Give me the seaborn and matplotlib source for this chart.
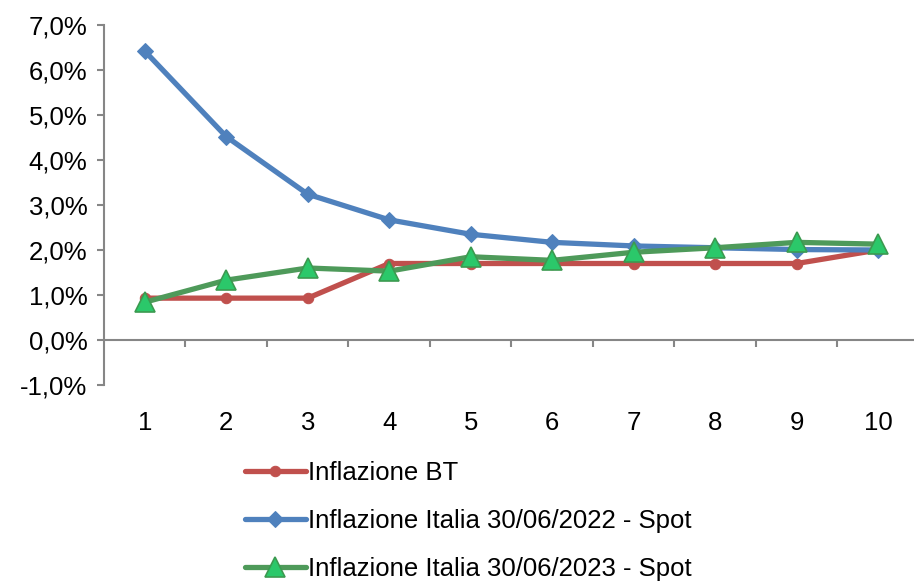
import numpy as np
import pandas as pd
import matplotlib
matplotlib.use("Agg")
import matplotlib.pyplot as plt
from matplotlib.ticker import FuncFormatter
import seaborn as sns

# data (percent values)
anni = [1, 2, 3, 4, 5, 6, 7, 8, 9, 10]
infl_bt = [0.93, 0.93, 0.93, 1.70, 1.70, 1.70, 1.70, 1.70, 1.70, 2.00]
infl_2022 = [6.42, 4.52, 3.24, 2.67, 2.35, 2.17, 2.09, 2.05, 2.01, 2.00]
infl_2023 = [0.84, 1.33, 1.60, 1.53, 1.85, 1.77, 1.95, 2.05, 2.17, 2.13]
nomi = ["Inflazione BT",
        "Inflazione Italia 30/06/2022 - Spot",
        "Inflazione Italia 30/06/2023 - Spot"]
y_ticks = [-1, 0, 1, 2, 3, 4, 5, 6, 7]

sns.set_style("white")
plt.rcParams['font.family'] = ['Liberation Sans', 'DejaVu Sans']
plt.rcParams['font.style'] = 'normal'
plt.rcParams['text.color'] = 'black'
FS = 18.5

fig = plt.figure(figsize=(9.14, 5.82), dpi=100)
ax = fig.add_axes([104 / 914, 1 - 385 / 582, 1 - 104 / 914, 360 / 582])

# one style per series
stili = [
    dict(color="#C0504D", marker="o", markersize=7.5, markerfacecolor="#C0504D",
         markeredgecolor="#C0504D"),
    dict(color="#4F81BD", marker="D", markersize=8, markerfacecolor="#4F81BD",
         markeredgecolor="#4F81BD"),
    dict(color="#4E9A5A", marker="^", markersize=14, markerfacecolor="#2BC86A",
         markeredgecolor="#3C9A50", markeredgewidth=1.2),
]
serie = [infl_bt, infl_2022, infl_2023]

for nome, valori, st in zip(nomi, serie, stili):
    df = pd.DataFrame({"anno": anni, "valore": valori})
    sns.lineplot(data=df, x="anno", y="valore", ax=ax, label=nome,
                 linewidth=3.8, solid_joinstyle="round", **st)

ax.set_xlim(0.5, 10.44)
ax.set_ylim(-1, 7)
ax.set_yticks(y_ticks)
ax.yaxis.set_major_formatter(FuncFormatter(lambda v, p: f"{v:.1f}%".replace(".", ",")))
ax.set_xticks(anni)
ax.set_xticklabels([str(a) for a in anni])
ax.set_xlabel("")
ax.set_ylabel("")

for s in ["top", "right", "bottom"]:
    ax.spines[s].set_visible(False)
ax.spines["left"].set_color("#868686")
ax.spines["left"].set_linewidth(1.5)

ax.tick_params(axis="y", left=True, length=5, width=1.5, color="#868686",
               labelsize=FS, pad=7, labelcolor="black")
ax.tick_params(axis="x", bottom=False, labelsize=FS, pad=15, labelcolor="black")

# zero line with category separators, as in Excel
ax.axhline(0, color="#868686", linewidth=1.5, zorder=1)
ax.vlines(np.arange(1.5, 10.5, 1), -0.155, 0, color="#868686", linewidth=1.5,
          zorder=1, clip_on=False)

ax.get_legend().remove()
h, l = ax.get_legend_handles_labels()
fig.legend(h, l, loc="upper left", bbox_to_anchor=(235 / 914, 1 - 451 / 582),
           frameon=False, fontsize=FS, handlelength=2.35, handletextpad=0.1,
           labelspacing=0.93, borderaxespad=0)

fig.savefig("out.png", dpi=100)
